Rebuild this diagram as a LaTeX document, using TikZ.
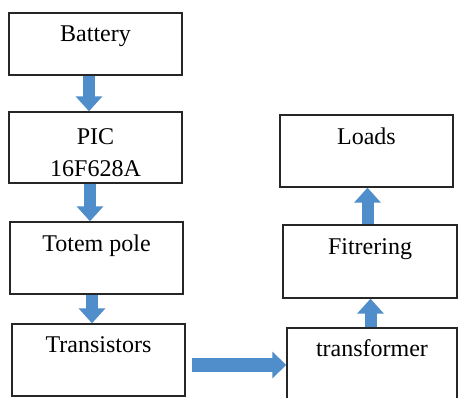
\documentclass[tikz,border=0pt]{standalone}
\usepackage{fontspec}
\setmainfont{Liberation Serif}
\usetikzlibrary{arrows.meta}
\definecolor{arrowblue}{HTML}{4F8DCB}
\tikzset{
  box/.style={draw=black!85, line width=1.4pt, fill=white, inner sep=0pt, rectangle},
  lbl/.style={anchor=base, inner sep=0pt, font=\fontsize{24}{32}\selectfont, align=center},
  blockv/.style={draw=arrowblue, line width=12pt, -{Triangle[width=26pt,length=15pt]}},
  blockh/.style={draw=arrowblue, line width=14pt, -{Triangle[width=26pt,length=14pt]}}
}
\begin{document}
\begin{tikzpicture}[x=1pt,y=-1pt]
\useasboundingbox (0,0) rectangle (459,398);
\begin{scope}
\clip (0,0) rectangle (459,398);
\node[box, minimum width=173pt, minimum height=62pt] (bat) at (95.5,44) {};
\node[box, minimum width=173pt, minimum height=71pt] (pic) at (95.5,147.5) {};
\node[box, minimum width=173pt, minimum height=72pt] (tot) at (96.5,258) {};
\node[box, minimum width=173pt, minimum height=72pt] (tra) at (98.5,360) {};
\node[box, minimum width=173pt, minimum height=72pt] (loa) at (366.5,151) {};
\node[box, minimum width=174pt, minimum height=73pt] (fit) at (370,261.5) {};
\node[box, minimum width=170pt, minimum height=80pt] (tfm) at (372,368) {};
\end{scope}
\node[lbl] at ([yshift=-29pt]bat.north) {Battery};
\node[lbl] at ([yshift=-65pt]pic.north) {PIC\\16F628A};
\node[lbl] at ([yshift=-30pt]tot.north) {Totem pole};
\node[lbl] at ([yshift=-29pt]tra.north) {Transistors};
\node[lbl] at ([yshift=-30pt]loa.north) {Loads};
\node[lbl] at ([yshift=-30pt]fit.north) {Fitrering};
\node[lbl] at ([yshift=-29pt]tfm.north) {transformer};
\coordinate (x1) at (89,0);
\coordinate (x2) at (90,0);
\coordinate (x3) at (92,0);
\coordinate (x4) at (370.5,0);
\coordinate (x5) at (367.5,0);
\draw[blockv] (bat.south -| x1) -- (pic.north -| x1);
\draw[blockv] (pic.south -| x2) -- (tot.north -| x2);
\draw[blockv] (tot.south -| x3) -- (tra.north -| x3);
\coordinate (hs) at (192,365);
\draw[blockh] (hs) -- (hs -| tfm.west);
\draw[blockv] (tfm.north -| x4) -- (fit.south -| x4);
\draw[blockv] (fit.north -| x5) -- (loa.south -| x5);
\end{tikzpicture}
\end{document}
